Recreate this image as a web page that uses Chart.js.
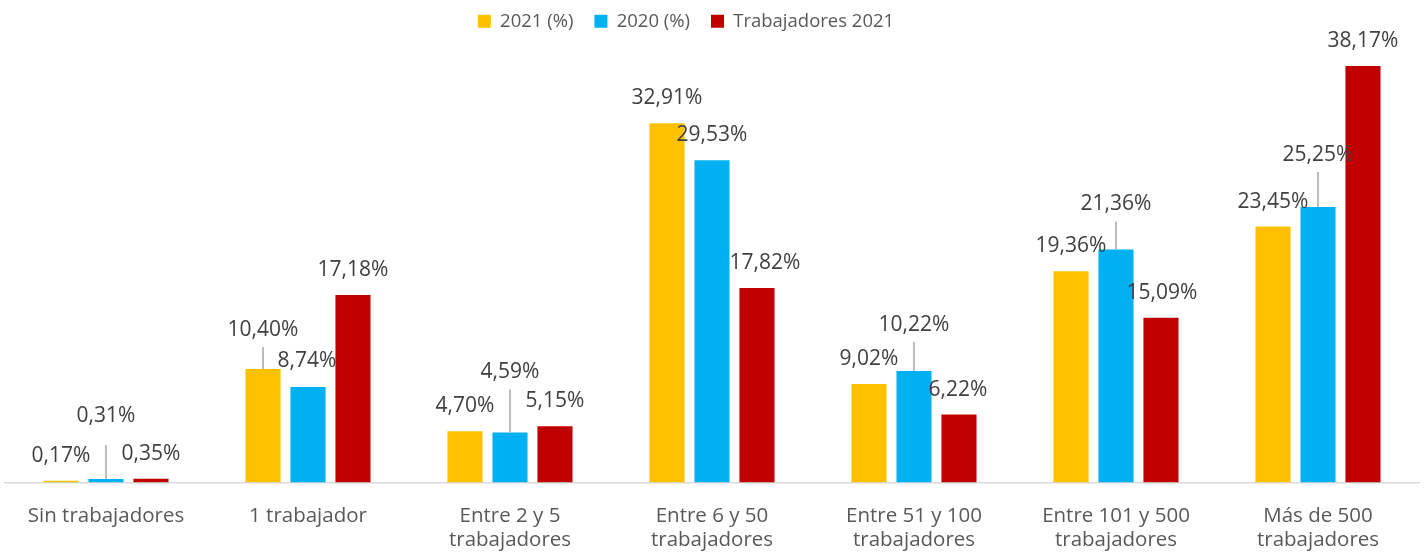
<!DOCTYPE html>
<html lang="es">
<head>
    <meta charset="UTF-8">
    <title>Empresas por tamaño</title>
    <script src="https://cdn.jsdelivr.net/npm/chart.js"></script>
    <style>
        body {
            margin: 0;
            padding: 0;
            background: #fff;
        }
        .wrap {
            width: 1426px;
            height: 558px;
        }
    </style>
</head>
<body>
    <div class="wrap">
        <canvas id="chart"></canvas>
    </div>

    <script>
        // Data
        const categories = [
            'Sin trabajadores',
            '1 trabajador',
            ['Entre 2 y 5', 'trabajadores'],
            ['Entre 6 y 50', 'trabajadores'],
            ['Entre 51 y 100', 'trabajadores'],
            ['Entre 101 y 500', 'trabajadores'],
            ['Más de 500', 'trabajadores']
        ];
        const seriesNames = ['2021 (%)', '2020 (%)', 'Trabajadores 2021'];
        const values2021 = [0.17, 10.40, 4.70, 32.91, 9.02, 19.36, 23.45];
        const values2020 = [0.31, 8.74, 4.59, 29.53, 10.22, 21.36, 25.25];
        const workers2021 = [0.35, 17.18, 5.15, 17.82, 6.22, 15.09, 38.17];

        // label placement (dx, dy from bar top) - layout only
        const labelOffsets = [
            [[0, -25], [0, -39], [0, -25], [0, -25], [0, -25], [0, -25], [0, -25]],
            [[0, -63, 29], [-1, -26], [0, -60], [0, -25], [0, -46], [0, -45], [0, -52]],
            [[0, -25], [0, -25], [0, -25], [8, -25], [-1, -25], [1, -25], [0, -25]]
        ];

        const colors = ['#FFC000', '#00B0F0', '#C00000'];

        function fmt(v) {
            return v.toFixed(2).replace('.', ',') + '%';
        }

        // draws the value labels, with leader lines where the label was moved up
        const valueLabels = {
            id: 'valueLabels',
            afterDatasetsDraw(chart) {
                const ctx = chart.ctx;
                ctx.save();
                ctx.font = '21px "Open Sans"';
                ctx.fillStyle = '#404040';
                ctx.textAlign = 'center';
                ctx.textBaseline = 'middle';
                chart.data.datasets.forEach((ds, i) => {
                    const meta = chart.getDatasetMeta(i);
                    meta.data.forEach((bar, j) => {
                        const off = labelOffsets[i][j];
                        const lx = bar.x + off[0];
                        const ly = bar.y + off[1];
                        if (off[1] < -35) {
                            const gap = off[2] || 17;
                            ctx.strokeStyle = '#A6A6A6';
                            ctx.lineWidth = 1.5;
                            ctx.beginPath();
                            ctx.moveTo(bar.x, ly + gap);
                            ctx.lineTo(bar.x, bar.y);
                            ctx.stroke();
                        }
                        ctx.fillText(fmt(ds.data[j]), lx, ly);
                    });
                });
                ctx.restore();
            }
        };

        // fixed legend height so the plot area starts where it does in the picture,
        // and nudge the legend a bit left/up like in the original
        const legendHeight = {
            id: 'legendHeight',
            beforeInit(chart) {
                const fit = chart.legend.fit;
                chart.legend.fit = function () {
                    fit.bind(chart.legend)();
                    this.height = 46;
                };
            },
            beforeDraw(chart) {
                const lg = chart.legend;
                lg.left -= 26;
                lg.right -= 26;
                lg.top -= 9;
            },
            afterDraw(chart) {
                const lg = chart.legend;
                lg.left += 26;
                lg.right += 26;
                lg.top += 9;
            }
        };

        const ctx = document.getElementById('chart').getContext('2d');
        new Chart(ctx, {
            type: 'bar',
            data: {
                labels: categories,
                datasets: [
                    { label: seriesNames[0], data: values2021, backgroundColor: colors[0] },
                    { label: seriesNames[1], data: values2020, backgroundColor: colors[1] },
                    { label: seriesNames[2], data: workers2021, backgroundColor: colors[2] }
                ]
            },
            options: {
                responsive: true,
                maintainAspectRatio: false,
                animation: false,
                categoryPercentage: 0.668,
                barPercentage: 0.78,
                layout: {
                    padding: { left: 5, right: 7, top: 0, bottom: 0 }
                },
                plugins: {
                    legend: {
                        position: 'top',
                        labels: {
                            boxWidth: 13,
                            boxHeight: 13,
                            padding: 21,
                            color: '#595959',
                            font: { family: '"Open Sans"', size: 18.5 }
                        }
                    },
                    tooltip: { enabled: false }
                },
                scales: {
                    x: {
                        grid: { display: false, drawTicks: false },
                        border: { display: true, color: '#D9D9D9', width: 1.5 },
                        ticks: {
                            color: '#595959',
                            padding: 22,
                            maxRotation: 0,
                            autoSkip: false,
                            font: { family: '"Open Sans"', size: 20.5, lineHeight: 1.15 }
                        },
                        afterFit(scale) {
                            scale.height = 75.5;
                        }
                    },
                    y: {
                        display: false,
                        min: 0,
                        max: 40
                    }
                }
            },
            plugins: [valueLabels, legendHeight]
        });
    </script>
</body>
</html>
